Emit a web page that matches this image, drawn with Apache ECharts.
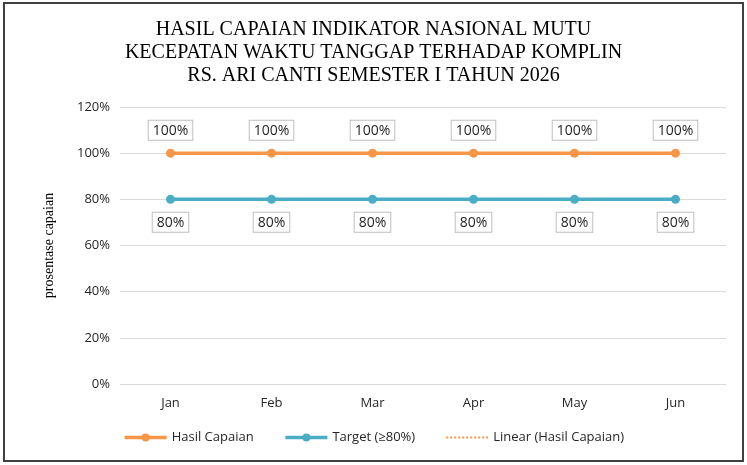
<!DOCTYPE html>
<html lang="en">
<head>
    <meta charset="utf-8">
    <title>ECharts</title>
    <script src="https://cdn.jsdelivr.net/npm/echarts@6/dist/echarts.min.js"></script>
    <style>
        html, body { margin: 0; padding: 0; background: #fff; }
        #main { position: absolute; left: 3px; top: 2px; width: 737px; height: 456px; border: 2px solid #404040; }
    </style>
</head>
<body>
<div id="main"></div>
<script type="text/javascript">
    var months = ['Jan', 'Feb', 'Mar', 'Apr', 'May', 'Jun'];
    var hasilCapaian = [100, 100, 100, 100, 100, 100];
    var target = [80, 80, 80, 80, 80, 80];
    // trendline of Hasil Capaian (flat at 100)
    var linearHasil = [100, 100, 100, 100, 100, 100];

    var myChart = echarts.init(document.getElementById('main'));

    var boxLabel = {
        show: true,
        formatter: '{c}%',
        color: '#262626',
        fontFamily: 'Open Sans',
        fontSize: 14,
        backgroundColor: '#fff',
        borderColor: '#bfbfbf',
        borderWidth: 1,
        padding: [3, 4, 2, 4]
    };

    var option = {
        animation: false,
        backgroundColor: '#fff',
        title: {
            text: 'HASIL CAPAIAN INDIKATOR NASIONAL MUTU\nKECEPATAN WAKTU TANGGAP TERHADAP KOMPLIN\nRS. ARI CANTI SEMESTER I TAHUN 2026',
            left: 'center',
            top: 9,
            textStyle: {
                fontFamily: 'Liberation Serif',
                fontWeight: 'normal',
                fontSize: 20,
                lineHeight: 23,
                color: '#000'
            }
        },
        legend: {
            bottom: 11,
            left: 'center',
            itemWidth: 42,
            itemHeight: 10,
            itemGap: 30,
            textStyle: { fontFamily: 'Open Sans', fontSize: 13, color: '#262626' },
            data: [
                { name: 'Hasil Capaian', lineStyle: { width: 3.5 } },
                { name: 'Target (≥80%)', lineStyle: { width: 3.5 } },
                { name: 'Linear (Hasil Capaian)', itemStyle: { opacity: 0 }, lineStyle: { width: 2 } }
            ]
        },
        grid: { left: 115, right: 16, top: 103, bottom: 76 },
        xAxis: {
            type: 'category',
            data: months,
            axisLine: { show: false },
            axisTick: { show: false },
            axisLabel: { color: '#262626', fontFamily: 'Open Sans', fontSize: 13, margin: 13 }
        },
        yAxis: {
            type: 'value',
            min: 0,
            max: 120,
            interval: 20,
            name: 'prosentase capaian',
            nameLocation: 'middle',
            nameGap: 64,
            nameTextStyle: { fontFamily: 'Liberation Serif', fontSize: 14, color: '#000' },
            axisLabel: { formatter: '{value}%', color: '#262626', fontFamily: 'Open Sans', fontSize: 13, margin: 10 },
            splitLine: { lineStyle: { color: '#d9d9d9', width: 1 } }
        },
        series: [{
            name: 'Hasil Capaian',
            type: 'line',
            data: hasilCapaian,
            symbol: 'circle',
            symbolSize: 9,
            z: 3,
            itemStyle: { color: '#F79646' },
            lineStyle: { color: '#F79646', width: 3.5 },
            label: Object.assign({}, boxLabel, { position: 'top', distance: 9 })
        }, {
            name: 'Target (≥80%)',
            type: 'line',
            data: target,
            symbol: 'circle',
            symbolSize: 9,
            z: 3,
            itemStyle: { color: '#4BACC6' },
            lineStyle: { color: '#4BACC6', width: 3.5 },
            label: Object.assign({}, boxLabel, { position: 'bottom', distance: 9 })
        }, {
            name: 'Linear (Hasil Capaian)',
            type: 'line',
            data: linearHasil,
            symbol: 'none',
            z: 2,
            itemStyle: { color: '#F79646' },
            lineStyle: { color: '#F79646', width: 2, type: 'dotted' }
        }]
    };

    myChart.setOption(option);
</script>
</body>
</html>
